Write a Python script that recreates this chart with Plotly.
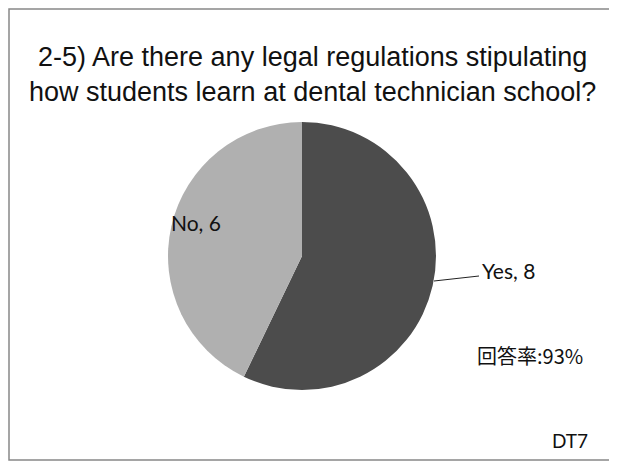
import plotly.graph_objects as go

# survey answers
answers = ["Yes", "No"]
counts = [8, 6]
slice_colors = ["#4c4c4c", "#b0b0b0"]

title_lines = [
    "2-5) Are there any legal regulations stipulating",
    "how students learn at dental technician school?",
]
response_rate = "回答率:93%"
slide_id = "DT7"

# the page body adds an 8px margin, so the figure is sized to fill the rest
W, H = 609, 455

# pie placement (pixels, figure coords)
cx, cy, r = 294, 248, 134

fig = go.Figure(go.Pie(
    labels=answers,
    values=counts,
    marker=dict(colors=slice_colors, line=dict(width=0)),
    sort=False,
    direction="clockwise",
    rotation=0,
    textinfo="none",
    hoverinfo="label+value",
    showlegend=False,
    domain=dict(x=[(cx - r) / W, (cx + r) / W],
                y=[(H - cy - r) / H, (H - cy + r) / H]),
))

annotations = [
    dict(text="<br>".join(title_lines), x=304 / W, y=1 - 66 / H,
         font=dict(family="Liberation Sans, Arial", size=27, color="#111")),
    dict(text=f"{answers[1]}, {counts[1]}", x=188 / W, y=1 - 214 / H,
         font=dict(family="Lato", size=21, color="#111")),
    dict(text=f"{answers[0]}, {counts[0]}", x=472 / W, y=1 - 262 / H, xanchor="left",
         font=dict(family="Lato", size=21, color="#111")),
    dict(text=response_rate, x=577 / W, y=1 - 347 / H, xanchor="right",
         font=dict(family="Noto Sans CJK JP", size=20, color="#111")),
    dict(text=slide_id, x=582 / W, y=1 - 432 / H, xanchor="right",
         font=dict(family="Lato", size=19, color="#111")),
]
for a in annotations:
    a.update(xref="paper", yref="paper", showarrow=False)
    a.setdefault("xanchor", "center")
    a["yanchor"] = "middle"

fig.update_layout(
    width=W, height=H,
    margin=dict(l=0, r=0, t=0, b=0),
    paper_bgcolor="white",
    plot_bgcolor="white",
    annotations=annotations,
    shapes=[
        # leader line for the Yes label
        dict(type="line", xref="paper", yref="paper",
             x0=426 / W, y0=1 - 273 / H, x1=471 / W, y1=1 - 268 / H,
             line=dict(color="#222", width=1)),
        # slide frame
        dict(type="rect", xref="paper", yref="paper",
             x0=1 / W, y0=3 / H, x1=606 / W, y1=1 - 1 / H,
             line=dict(color="#888", width=1.5)),
    ],
)

fig.write_html("out.html")
